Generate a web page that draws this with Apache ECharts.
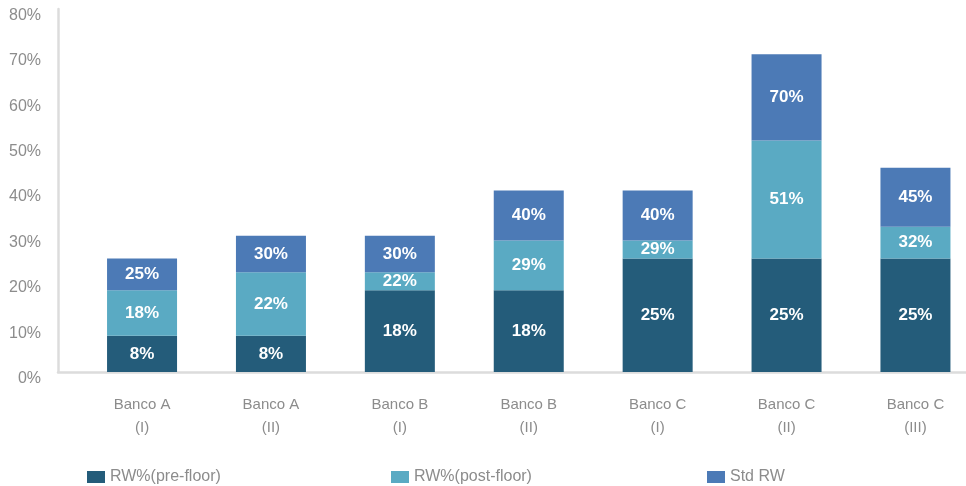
<!DOCTYPE html>
<html>
<head>
<meta charset="utf-8">
<script src="https://cdn.jsdelivr.net/npm/echarts@6/dist/echarts.min.js"></script>
<style>
html,body{margin:0;padding:0;background:#fff;}
#c{width:966px;height:486px;}
</style>
</head>
<body>
<div id="c"></div>
<script>
// Categories (two-line labels)
const categories = ["Banco A\n(I)", "Banco A\n(II)", "Banco B\n(I)", "Banco B\n(II)", "Banco C\n(I)", "Banco C\n(II)", "Banco C\n(III)"];
// Cumulative values as labelled in the chart (%)
const preFloor  = [8, 8, 18, 18, 25, 25, 25];
const postFloor = [18, 22, 22, 29, 29, 51, 32];
const stdRW     = [25, 30, 30, 40, 40, 70, 45];
const seriesNames = ["RW%(pre-floor)", "RW%(post-floor)", "Std RW"];
const yTicks = [0, 10, 20, 30, 40, 50, 60, 70, 80];

const colors = ["#245C7A", "#5AAAC3", "#4C7AB6"];
const grey = "#8c8c8c";
const font = "Liberation Sans";

const postInc = postFloor.map((v, i) => v - preFloor[i]);
const stdInc = stdRW.map((v, i) => v - postFloor[i]);
const cumul = [preFloor, postFloor, stdRW];

function labelOf(k) {
  return {
    show: true,
    position: 'inside',
    color: '#fff',
    fontFamily: font,
    fontWeight: 'bold',
    fontSize: 17,
    formatter: p => cumul[k][p.dataIndex] + '%'
  };
}

const chart = echarts.init(document.getElementById('c'), null, {renderer: 'canvas'});
chart.setOption({
  backgroundColor: '#fff',
  animation: false,
  grid: [
    {left: 77.6, width: 902.3, top: 9, bottom: 114, outerBoundsMode: 'none', containLabel: false},
    {left: 58, right: 0, top: 9, bottom: 114, outerBoundsMode: 'none', containLabel: false}
  ],
  xAxis: [
    {
      type: 'category', gridIndex: 0, data: categories,
      axisLine: {show: false}, axisTick: {show: false},
      axisLabel: {color: grey, fontFamily: font, fontSize: 15, lineHeight: 23, margin: 21}
    },
    {
      type: 'category', gridIndex: 1, data: [''],
      axisLine: {show: true, lineStyle: {color: '#dcdcdc', width: 2.5}},
      axisTick: {show: false}, axisLabel: {show: false}
    }
  ],
  yAxis: [
    {
      type: 'value', gridIndex: 0, min: 0, max: 80, interval: 10,
      offset: 19.6,
      axisLine: {show: true, lineStyle: {color: '#dcdcdc', width: 2.5}},
      axisTick: {show: false},
      splitLine: {show: false},
      axisLabel: {color: grey, fontFamily: font, fontSize: 16, margin: 17,
        formatter: v => yTicks.includes(v) ? '{a|' + v + '%}' : '',
        rich: {a: {color: grey, fontFamily: font, fontSize: 16, padding: [13, 0, 0, 0]}}}
    },
    {
      type: 'value', gridIndex: 1, min: 0, max: 80, show: false
    }
  ],
  legend: seriesNames.map((n, i) => ({
    data: [n],
    left: [87, 391, 707][i],
    top: 469,
    padding: 0,
    icon: 'rect',
    itemWidth: 18,
    itemHeight: 12,
    itemGap: 5,
    textStyle: {color: grey, fontFamily: font, fontSize: 16}
  })),
  series: [
    {name: seriesNames[0], type: 'bar', stack: 'rw', data: preFloor, barWidth: 70,
     itemStyle: {color: colors[0]}, label: labelOf(0)},
    {name: seriesNames[1], type: 'bar', stack: 'rw', data: postInc, barWidth: 70,
     itemStyle: {color: colors[1]}, label: labelOf(1)},
    {name: seriesNames[2], type: 'bar', stack: 'rw', data: stdInc, barWidth: 70,
     itemStyle: {color: colors[2]}, label: labelOf(2)}
  ]
});
</script>
</body>
</html>
